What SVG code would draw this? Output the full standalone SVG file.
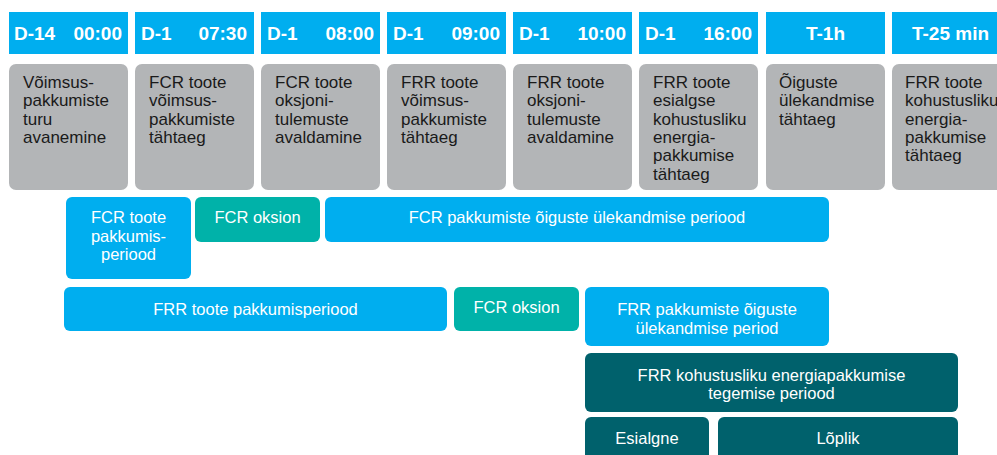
<svg xmlns="http://www.w3.org/2000/svg" width="997" height="455" viewBox="0 0 997 455">
<style>
.hdr{fill:#00AEEF}
.gry{fill:#B3B5B7}
.blu{fill:#00AEEF}
.tea{fill:#00B2A9}
.dtl{fill:#00616C}
.ht{font-family:"Liberation Sans",Arial,sans-serif;font-weight:bold;font-size:19px;fill:#fff}
.gt{font-family:"Liberation Sans",Arial,sans-serif;font-size:17px;fill:#1a1a1a}
.wt{font-family:"Liberation Sans",Arial,sans-serif;font-size:16.5px;fill:#fff;text-anchor:middle}
</style>
<rect width="997" height="455" fill="#fff"/>
<g id="headers">
<g id="h1"><rect class="hdr" x="9" y="12" width="119" height="42"/><text class="ht" x="14" y="40">D-14</text><text class="ht" x="122" y="40" text-anchor="end">00:00</text></g>
<g id="h2"><rect class="hdr" x="135" y="12" width="119" height="42"/><text class="ht" x="141" y="40">D-1</text><text class="ht" x="247" y="40" text-anchor="end">07:30</text></g>
<g id="h3"><rect class="hdr" x="261" y="12" width="119" height="42"/><text class="ht" x="267" y="40">D-1</text><text class="ht" x="374" y="40" text-anchor="end">08:00</text></g>
<g id="h4"><rect class="hdr" x="387" y="12" width="119" height="42"/><text class="ht" x="393" y="40">D-1</text><text class="ht" x="500" y="40" text-anchor="end">09:00</text></g>
<g id="h5"><rect class="hdr" x="513" y="12" width="119" height="42"/><text class="ht" x="519" y="40">D-1</text><text class="ht" x="626" y="40" text-anchor="end">10:00</text></g>
<g id="h6"><rect class="hdr" x="639" y="12" width="119" height="42"/><text class="ht" x="645" y="40">D-1</text><text class="ht" x="752" y="40" text-anchor="end">16:00</text></g>
<g id="h7"><rect class="hdr" x="766" y="12" width="119" height="42"/><text class="ht" x="825.5" y="40" text-anchor="middle">T-1h</text></g>
<g id="h8"><rect class="hdr" x="892" y="12" width="119" height="42"/><text class="ht" x="950.5" y="40" text-anchor="middle">T-25 min</text></g>
</g>
<g id="events">
<g id="e1"><rect class="gry" x="9" y="64" width="119" height="126" rx="7"/><text class="gt"><tspan x="23" y="88">Võimsus-</tspan><tspan x="23" y="106.3">pakkumiste</tspan><tspan x="23" y="124.6">turu</tspan><tspan x="23" y="143">avanemine</tspan></text></g>
<g id="e2"><rect class="gry" x="135" y="64" width="119" height="126" rx="7"/><text class="gt"><tspan x="149" y="88">FCR toote</tspan><tspan x="149" y="106.3">võimsus-</tspan><tspan x="149" y="124.6">pakkumiste</tspan><tspan x="149" y="143">tähtaeg</tspan></text></g>
<g id="e3"><rect class="gry" x="261" y="64" width="119" height="126" rx="7"/><text class="gt"><tspan x="275" y="88">FCR toote</tspan><tspan x="275" y="106.3">oksjoni-</tspan><tspan x="275" y="124.6">tulemuste</tspan><tspan x="275" y="143">avaldamine</tspan></text></g>
<g id="e4"><rect class="gry" x="387" y="64" width="119" height="126" rx="7"/><text class="gt"><tspan x="401" y="88">FRR toote</tspan><tspan x="401" y="106.3">võimsus-</tspan><tspan x="401" y="124.6">pakkumiste</tspan><tspan x="401" y="143">tähtaeg</tspan></text></g>
<g id="e5"><rect class="gry" x="513" y="64" width="119" height="126" rx="7"/><text class="gt"><tspan x="527" y="88">FRR toote</tspan><tspan x="527" y="106.3">oksjoni-</tspan><tspan x="527" y="124.6">tulemuste</tspan><tspan x="527" y="143">avaldamine</tspan></text></g>
<g id="e6"><rect class="gry" x="639" y="64" width="119" height="126" rx="7"/><text class="gt"><tspan x="653" y="88">FRR toote</tspan><tspan x="653" y="106.3">esialgse</tspan><tspan x="653" y="124.6">kohustusliku</tspan><tspan x="653" y="143">energia-</tspan><tspan x="653" y="161.3">pakkumise</tspan><tspan x="653" y="179.6">tähtaeg</tspan></text></g>
<g id="e7"><rect class="gry" x="766" y="64" width="119" height="126" rx="7"/><text class="gt"><tspan x="779" y="88">Õiguste</tspan><tspan x="779" y="106.3">ülekandmise</tspan><tspan x="779" y="124.6">tähtaeg</tspan></text></g>
<g id="e8"><rect class="gry" x="892" y="64" width="119" height="126" rx="7"/><text class="gt"><tspan x="905" y="88">FRR toote</tspan><tspan x="905" y="106.3">kohustusliku</tspan><tspan x="905" y="124.6">energia-</tspan><tspan x="905" y="143">pakkumise</tspan><tspan x="905" y="161.3">tähtaeg</tspan></text></g>
</g>
<g id="periods">
<g id="fcr-offer"><rect class="blu" x="66" y="197" width="125" height="82" rx="6"/><text class="wt"><tspan x="128.5" y="223">FCR toote</tspan><tspan x="128.5" y="241.5">pakkumis-</tspan><tspan x="128.5" y="260">periood</tspan></text></g>
<g id="fcr-auction"><rect class="tea" x="195" y="197" width="125" height="45" rx="6"/><text class="wt" x="257.5" y="223">FCR oksion</text></g>
<g id="fcr-transfer"><rect class="blu" x="325" y="197" width="504" height="45" rx="6"/><text class="wt" x="577" y="223">FCR pakkumiste õiguste ülekandmise periood</text></g>
<g id="frr-offer"><rect class="blu" x="64" y="287" width="383" height="44" rx="6"/><text class="wt" x="255.5" y="315">FRR toote pakkumisperiood</text></g>
<g id="frr-auction"><rect class="tea" x="454" y="287" width="125" height="44" rx="6"/><text class="wt" x="516.5" y="313">FCR oksion</text></g>
<g id="frr-transfer"><rect class="blu" x="585" y="287" width="244" height="59" rx="6"/><text class="wt"><tspan x="707" y="315">FRR pakkumiste õiguste</tspan><tspan x="707" y="333.5">ülekandmise period</tspan></text></g>
<g id="frr-energy"><rect class="dtl" x="585" y="353" width="373" height="59" rx="6"/><text class="wt"><tspan x="771.5" y="380.5">FRR kohustusliku energiapakkumise</tspan><tspan x="771.5" y="399">tegemise periood</tspan></text></g>
<g id="esialgne"><rect class="dtl" x="585" y="417" width="124" height="50" rx="6"/><text class="wt" x="647" y="444">Esialgne</text></g>
<g id="loplik"><rect class="dtl" x="718" y="417" width="240" height="50" rx="6"/><text class="wt" x="838" y="444">Lõplik</text></g>
</g>
<g id="connectors"/>
</svg>
